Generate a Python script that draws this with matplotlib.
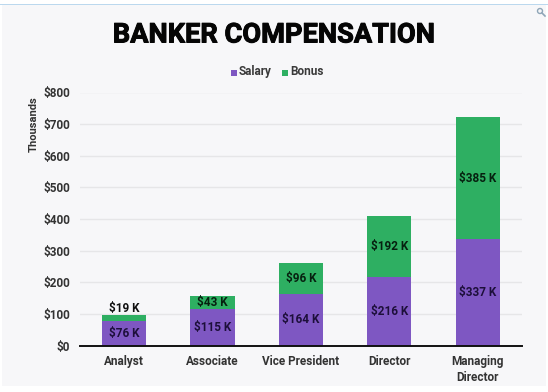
import matplotlib
matplotlib.use('Agg')
import matplotlib.pyplot as plt
import matplotlib.patheffects as pe
from matplotlib.patches import Rectangle, Circle
from matplotlib.lines import Line2D
import numpy as np

roles = ['Analyst', 'Associate', 'Vice President', 'Director', 'Managing\nDirector']
salary = [76, 115, 164, 216, 337]
bonus = [19, 43, 96, 192, 385]
ticks = [0, 100, 200, 300, 400, 500, 600, 700, 800]

W, H = 548, 392
purple = '#7E57C2'
green = '#2EAF62'
plt.rcParams['font.family'] = ['Roboto', 'DejaVu Sans']

fig = plt.figure(figsize=(W / 100, H / 100), dpi=100, facecolor='white')

# page background of the screenshot, kept behind the axes
fig.add_artist(Rectangle((2 / W, 1 - 386 / H), 544 / W, 381 / H, transform=fig.transFigure,
                         facecolor='#F7F7F9', edgecolor='none', zorder=-2))
fig.add_artist(Rectangle((0, 1 - 5 / H), 1, 1 / H, transform=fig.transFigure,
                         facecolor='#BBD8EE', edgecolor='none', zorder=-2))

# small magnifier icon in the corner, in pixel coordinates
fig.add_artist(Circle((540, H - 11), 2.5, transform=None, facecolor='none',
                      edgecolor='#8FA6B8', linewidth=1))
fig.add_artist(Line2D([542, 545], [H - 13, H - 16], transform=None, color='#8FA6B8', linewidth=1.2))

ax = fig.add_axes([80 / W, 1 - 345.5 / H, 442 / W, 253 / H])
ax.patch.set_alpha(0)
x = np.arange(len(roles))
ax.bar(x, salary, width=0.5, color=purple, zorder=2)
ax.bar(x, bonus, width=0.5, bottom=salary, color=green, zorder=2)

for i in x:
    ax.text(i, salary[i] / 2, f'${salary[i]} K', ha='center', va='center',
            fontsize=8.5, fontweight='bold', color='#1D0F3A', zorder=3)
    # the thin analyst bonus segment has its label above the bar
    if bonus[i] < 30:
        ax.text(i, salary[i] + bonus[i] + 3, f'${bonus[i]} K', ha='center', va='bottom',
                fontsize=8.5, fontweight='bold', color='#101010', zorder=3)
    else:
        ax.text(i, salary[i] + bonus[i] / 2, f'${bonus[i]} K', ha='center', va='center',
                fontsize=8.5, fontweight='bold', color='#06200F', zorder=3)

ax.set_xlim(-0.5, 4.5)
ax.set_ylim(0, 800)
ax.set_yticks(ticks)
ax.set_yticklabels([f'${t}' for t in ticks], fontsize=8.5, fontweight='bold', color='#333333')
ax.set_xticks(x)
ax.set_xticklabels(roles, fontsize=8.5, fontweight='bold', color='#333333', linespacing=1.25)
ax.tick_params(axis='both', length=0)
ax.tick_params(axis='x', pad=7)
ax.tick_params(axis='y', pad=7)
ax.grid(axis='y', color='#E6E6E8', linewidth=1, zorder=0)
ax.set_axisbelow(True)
for s in ['top', 'right', 'left']:
    ax.spines[s].set_visible(False)
ax.spines['bottom'].set_color('#111111')
ax.spines['bottom'].set_linewidth(1.4)
ax.spines['bottom'].set_zorder(4)

fig.text(34 / W, 1 - 124 / H, 'Thousands', rotation=90, ha='center', va='center',
         fontsize=8, fontweight='bold', color='#333333')
title = fig.text(274 / W, 1 - 35 / H, 'BANKER COMPENSATION', ha='center', va='center',
                 fontsize=19.6, fontweight='bold', color='#050505')
title.set_path_effects([pe.withStroke(linewidth=0.7, foreground='#050505')])

# legend
fig.add_artist(Rectangle((231 / W, 1 - 76 / H), 6 / W, 6 / H, transform=fig.transFigure,
                         facecolor=purple, edgecolor='none'))
fig.text(239 / W, 1 - 71.5 / H, 'Salary', ha='left', va='center', fontsize=8.5,
         fontweight='bold', color='#3A3A3A')
fig.add_artist(Rectangle((282 / W, 1 - 76 / H), 6 / W, 6 / H, transform=fig.transFigure,
                         facecolor=green, edgecolor='none'))
fig.text(290 / W, 1 - 71.5 / H, 'Bonus', ha='left', va='center', fontsize=8.5,
         fontweight='bold', color='#3A3A3A')

fig.savefig('out.png', dpi=100, facecolor='white')
